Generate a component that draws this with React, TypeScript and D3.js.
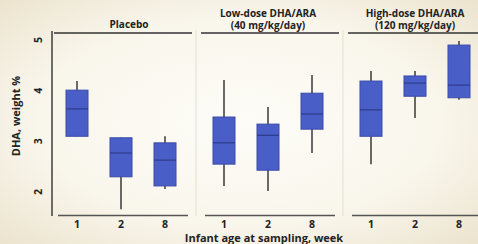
import React from "react";
import * as d3 from "d3";

const panels = ["Placebo", "Low-dose", "High-dose"];
const panelTitles = [["Placebo"], ["Low-dose DHA/ARA", "(40 mg/kg/day)"], ["High-dose DHA/ARA", "(120 mg/kg/day)"]];
const weeks = ["1", "2", "8"];
const yTicks = [2, 3, 4, 5];
// per panel, per week: [whiskerLow, q1, median, q3, whiskerHigh]
const placebo = [
  [3.10, 3.10, 3.64, 4.01, 4.19],
  [1.66, 2.30, 2.77, 3.07, 3.07],
  [2.06, 2.12, 2.63, 2.97, 3.10],
];
const lowDose = [
  [2.12, 2.55, 2.97, 3.48, 4.21],
  [2.02, 2.43, 3.12, 3.34, 3.68],
  [2.77, 3.24, 3.54, 3.95, 4.31],
];
const highDose = [
  [2.55, 3.10, 3.62, 4.19, 4.39],
  [3.46, 3.89, 4.15, 4.29, 4.39],
  [3.82, 3.86, 4.11, 4.90, 4.98],
];
const allData = [placebo, lowDose, highDose];

const W = 478, H = 244;

export default function App() {
  const y = d3.scaleLinear().domain([2, 5]).range([192, 40]);
  const px = d3.scaleBand().domain(panels).range([55, 481]).paddingInner(0.102).paddingOuter(0);
  const font = "'Open Sans', 'Noto Sans', sans-serif";
  const ink = "#222";
  return (
    <svg width={W} height={H} style={{ position: "absolute", left: 0, top: 0 }} fontFamily={font}>
      <defs>
        <radialGradient id="bg" cx="50%" cy="50%" r="70%">
          <stop offset="0%" stopColor="#fdfcf7" />
          <stop offset="60%" stopColor="#f9f6ec" />
          <stop offset="100%" stopColor="#ece4cf" />
        </radialGradient>
      </defs>
      <rect width={W} height={H} fill="url(#bg)" />
      {/* y axis */}
      <line x1={52} x2={52} y1={31} y2={216} stroke="#333" strokeWidth={1.4} />
      {yTicks.map((t) => (
        <text key={t} transform={`translate(38,${y(t)}) rotate(-90)`} textAnchor="middle" dominantBaseline="central"
          fontSize={10.5} fontWeight={700} fill={ink}>{t}</text>
      ))}
      <text transform={`translate(15,116) rotate(-90)`} textAnchor="middle" dominantBaseline="central"
        fontSize={11} fontWeight={700} fill={ink}>DHA, weight %</text>
      {panels.map((p, i) => {
        const x0 = px(p)!;
        const bw = px.bandwidth();
        const inner = d3.scaleBand().domain(weeks).range([x0, x0 + bw]).paddingInner(0.5).paddingOuter(0.25);
        const titleX = i === 0 ? x0 + bw / 2 + 8 : x0 + bw / 2;
        const lines = panelTitles[i];
        return (
          <g key={p}>
            {i > 0 && (
              <line x1={x0 - 6} x2={x0 - 6} y1={30} y2={216} stroke="#e4e0d4" strokeWidth={1} />
            )}
            <line x1={x0 - 1} x2={Math.min(x0 + bw + 5, W)} y1={33} y2={33} stroke="#333" strokeWidth={1.4} />
            <line x1={x0 + 3} x2={x0 + bw + 1} y1={215.5} y2={215.5} stroke="#555" strokeWidth={1.4} />
            {lines.map((l, k) => (
              <text key={k} x={titleX} y={lines.length === 1 ? 24 : 12.5 + k * 12.5} textAnchor="middle"
                dominantBaseline="central" fontSize={10} fontWeight={700} fill={ink}>{l}</text>
            ))}
            {weeks.map((w, j) => {
              const [lo, q1, med, q3, hi] = allData[i][j];
              const bx = inner(w)!;
              const bwid = inner.bandwidth();
              const cx = bx + bwid / 2;
              return (
                <g key={w}>
                  <line x1={cx} x2={cx} y1={y(hi)} y2={y(lo)} stroke="#2b2b2b" strokeWidth={1.4} />
                  <rect x={bx} y={y(q3)} width={bwid} height={y(q1) - y(q3)} fill="#4a5ec8" stroke="#3a4aa8" strokeWidth={1} />
                  <line x1={bx} x2={bx + bwid} y1={y(med)} y2={y(med)} stroke="#27357e" strokeWidth={1} />
                  <text x={cx} y={224} textAnchor="middle" dominantBaseline="central" fontSize={10.5} fontWeight={700} fill={ink}>{w}</text>
                </g>
              );
            })}
          </g>
        );
      })}
      <text x={264} y={237} textAnchor="middle" dominantBaseline="central" fontSize={11} fontWeight={700} fill={ink}>
        Infant age at sampling, week
      </text>
    </svg>
  );
}
